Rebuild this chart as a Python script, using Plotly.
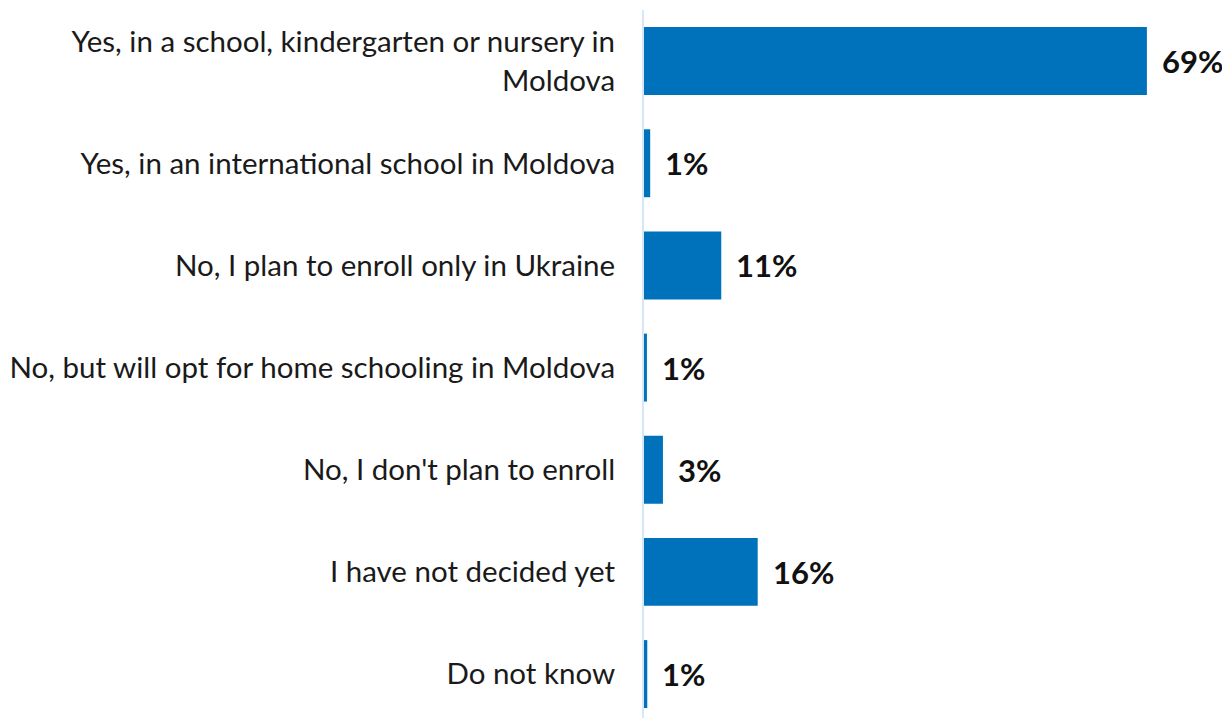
import plotly.graph_objects as go

categories = [
    "Yes, in a school, kindergarten or nursery in<br>Moldova",
    "Yes, in an international school in Moldova",
    "No, I plan to enroll only in Ukraine",
    "No, but will opt for home schooling in Moldova",
    "No, I don't plan to enroll",
    "I have not decided yet",
    "Do not know",
]
values = [69.0, 0.85, 10.6, 0.4, 2.6, 15.6, 0.45]
labels = ["69%", "1%", "11%", "1%", "3%", "16%", "1%"]

fig = go.Figure()
fig.add_trace(go.Bar(
    x=values, y=categories, orientation="h",
    marker=dict(color="#0072BC", line=dict(width=0)),
    width=0.665, hoverinfo="skip",
))
for v, c, t in zip(values, categories, labels):
    fig.add_annotation(x=v, y=c, text=f"<b>{t}</b>", showarrow=False,
                       xanchor="left", xshift=13,
                       font=dict(family="Lato", size=31, color="#111111"))

fig.update_layout(
    width=1222, height=710,
    margin=dict(l=636, r=0, t=2, b=0),
    paper_bgcolor="white", plot_bgcolor="white",
    showlegend=False,
    font=dict(family="Lato", size=29.5, color="#1a1a1a"),
    xaxis=dict(range=[0, 80.4], visible=False, showgrid=False, zeroline=False),
    yaxis=dict(range=[6.43, -0.5], showgrid=False, zeroline=False,
               showline=True, linecolor="#D6E8F7", linewidth=2,
               ticks="", ticklabelstandoff=21,
               tickfont=dict(family="Lato", size=29.5, color="#1a1a1a")),
)
fig.write_html("out.html")
